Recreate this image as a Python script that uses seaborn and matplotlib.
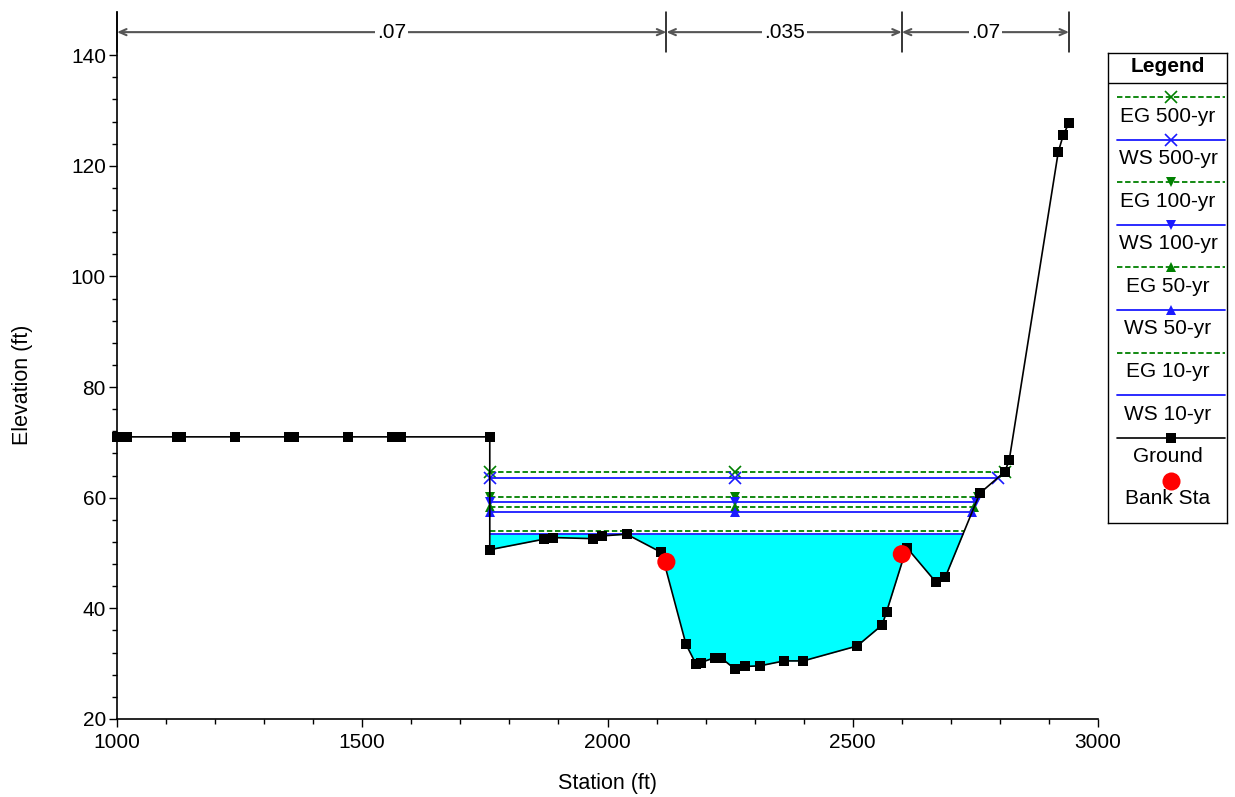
import numpy as np
import matplotlib.pyplot as plt
import seaborn as sns
from matplotlib.ticker import FixedLocator

# ground profile (station, elevation)
ground_sta = [1000, 1020, 1122, 1130, 1240, 1350, 1360, 1470, 1560, 1580, 1760, 1760,
              1870, 1889, 1970, 1989, 2039, 2110, 2160, 2180, 2190, 2219, 2231, 2260,
              2280, 2310, 2360, 2399, 2509, 2560, 2569, 2610, 2669, 2689, 2759, 2810,
              2819, 2919, 2929, 2941]
ground_elev = [71.0, 71.0, 71.0, 71.0, 71.0, 71.0, 71.0, 71.0, 71.0, 71.0, 71.0, 50.6,
               52.5, 52.8, 52.6, 53.1, 53.4, 50.1, 33.5, 30.0, 30.2, 31.1, 31.1, 29.0,
               29.5, 29.6, 30.5, 30.5, 33.2, 37.0, 39.4, 51.0, 44.8, 45.7, 60.8, 64.7,
               66.8, 122.5, 125.5, 127.8]

bank_sta = [2120, 2600]
bank_elev = [48.4, 49.8]

mann_n = [".07", ".035", ".07"]

profiles = ["EG 500-yr", "WS 500-yr", "EG 100-yr", "WS 100-yr",
            "EG 50-yr", "WS 50-yr", "EG 10-yr", "WS 10-yr"]
levels = [64.7, 63.6, 60.2, 59.3, 58.25, 57.5, 54.0, 53.4]
markers = ["x", "x", "v", "v", "^", "^", None, None]
left_wall = 1760
mid_sta = 2260

sns.set_style('ticks')
plt.rcParams['font.family'] = ['Liberation Sans', 'DejaVu Sans']
plt.rcParams.update({'text.color': 'black', 'axes.labelcolor': 'black',
                     'xtick.color': 'black', 'ytick.color': 'black'})

fig = plt.figure(figsize=(12.35, 7.97), dpi=100)
ax = fig.add_axes([117 / 1235, 1 - 719 / 797, 981 / 1235, 707 / 797])

gs = np.array(ground_sta, dtype=float)
ge = np.array(ground_elev, dtype=float)

# right bank (rising part) used to find where each water line meets the ground
i_right = ground_sta.index(2689)
rb_sta, rb_elev = gs[i_right:], ge[i_right:]

# water fill (10-yr)
i_left = 11
ws10 = levels[-1]
ch_x, ch_y = gs[i_left:], ge[i_left:]
ax.fill_between(ch_x, ch_y, ws10, where=ch_y <= ws10, interpolate=True,
                color='#00ffff', lw=0, zorder=1)

green = '#008000'
blue = '#1a1aff'
for name, lev, mk in zip(profiles, levels, markers):
    right = float(np.interp(lev, rb_elev, rb_sta))
    xs = [left_wall, mid_sta, right]
    ys = [lev, lev, lev]
    eg = name.startswith("EG")
    sns.lineplot(x=xs, y=ys, ax=ax, sort=False, estimator=None,
                 color=green if eg else blue, lw=1.3,
                 linestyle=(0, (3, 1.5)) if eg else '-',
                 marker=mk, markersize=8 if mk == 'x' else 7,
                 markeredgewidth=1.2 if mk == 'x' else 0,
                 markeredgecolor=green if eg else blue, zorder=3)

sns.lineplot(x=gs, y=ge, ax=ax, sort=False, estimator=None, color='black', lw=1.2,
             marker='s', markersize=6.5, markeredgewidth=0, zorder=4, clip_on=False)
sns.scatterplot(x=bank_sta, y=bank_elev, ax=ax, color='#ff0000', s=170,
                edgecolor='none', zorder=5)

# Manning's n regions along the top
bounds = [1000] + bank_sta + [ground_sta[-1]]
ya = 144.16
for b in bounds:
    ax.plot([b, b], [140.55, 147.8], color='black', lw=1.1, zorder=6, clip_on=False)
for n, x0, x1 in zip(mann_n, bounds[:-1], bounds[1:]):
    ax.annotate('', xy=(x0, ya), xytext=(x1, ya),
                arrowprops=dict(arrowstyle='<->,head_length=0.5,head_width=0.22',
                                color='#555555', lw=1.5, shrinkA=0, shrinkB=0))
    ax.text((x0 + x1) / 2, ya, n, ha='center', va='center', fontsize=15,
            bbox=dict(facecolor='white', edgecolor='none', pad=1.5), zorder=7)

ax.set_xlim(1000, 3000)
ax.set_ylim(20, 147.8)
ax.set_xticks(range(1000, 3001, 500))
ax.xaxis.set_minor_locator(FixedLocator([v for v in range(1000, 3001, 100) if v % 500]))
ax.set_yticks(range(20, 141, 20))
ax.yaxis.set_minor_locator(FixedLocator([v for v in range(20, 141, 4) if v % 20]))
ax.tick_params(which='major', length=6, width=1, labelsize=15, color='black')
ax.tick_params(which='minor', length=3.5, width=1, color='black')
ax.tick_params(axis='y', pad=2)
ax.tick_params(axis='x', pad=4)
sns.despine(ax=ax)
for s in ['left', 'bottom']:
    ax.spines[s].set_color('black')
    ax.spines[s].set_linewidth(1.2)

ax.set_xlabel('Station (ft)', fontsize=15.5)
ax.set_ylabel('Elevation (ft)', fontsize=15.5)
ax.xaxis.set_label_coords(0.5, -0.077)
ax.yaxis.set_label_coords(-0.086, 0.472)

# legend box drawn in figure pixel space
lax = fig.add_axes([1108 / 1235, 1 - 523 / 797, 119 / 1235, 470 / 797])
lax.set_xlim(1108, 1227)
lax.set_ylim(523, 53)
lax.set_xticks([])
lax.set_yticks([])
for s in lax.spines.values():
    s.set_color('black')
    s.set_linewidth(1)
xc = 1168
lax.text(xc, 67, 'Legend', ha='center', va='center', fontsize=15, fontweight='bold')
lax.plot([1108, 1227], [83, 83], color='black', lw=1)
for i, (name, mk) in enumerate(zip(profiles, markers)):
    y = 97 + 42.6 * i
    eg = name.startswith("EG")
    lax.plot([1117, 1225], [y, y], color=green if eg else blue, lw=1.3,
             linestyle=(0, (3, 1.5)) if eg else '-')
    if mk:
        lax.plot([1171], [y], marker=mk, color=green if eg else blue,
                 markersize=8 if mk == 'x' else 7,
                 markeredgewidth=1.2 if mk == 'x' else 0)
    lax.text(xc, y + 19, name, ha='center', va='center', fontsize=15)
y = 97 + 42.6 * 8
lax.plot([1117, 1225], [y, y], color='black', lw=1.2)
lax.plot([1171], [y], marker='s', color='black', markersize=7, markeredgewidth=0)
lax.text(xc, y + 19, 'Ground', ha='center', va='center', fontsize=15)
lax.plot([1171], [481], marker='o', color='#ff0000', markersize=13, markeredgewidth=0)
lax.text(xc, 499, 'Bank Sta', ha='center', va='center', fontsize=15)

fig.savefig('out.png', dpi=100)
